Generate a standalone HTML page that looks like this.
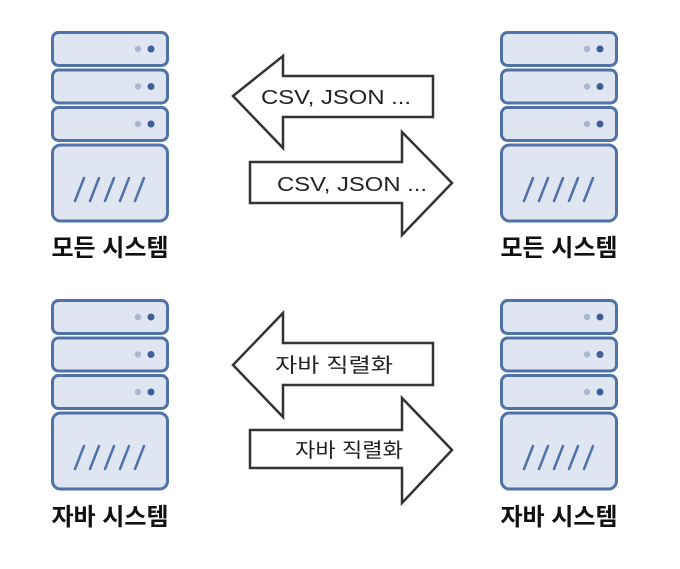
<!DOCTYPE html>
<html><head><meta charset="utf-8"><style>
body{margin:0;background:#fff;width:680px;height:564px;overflow:hidden}
</style></head><body>
<svg width="680" height="564" viewBox="0 0 680 564" xmlns="http://www.w3.org/2000/svg">
<defs>
<g id="srv">
<rect x="1.5" y="1.5" width="115" height="33" rx="6" fill="#dfe5f1" stroke="#4f73a8" stroke-width="3"/>
<rect x="1.5" y="39" width="115" height="33" rx="6" fill="#dfe5f1" stroke="#4f73a8" stroke-width="3"/>
<rect x="1.5" y="76.5" width="115" height="33" rx="6" fill="#dfe5f1" stroke="#4f73a8" stroke-width="3"/>
<rect x="1.5" y="114" width="115" height="76" rx="8" fill="#dfe5f1" stroke="#4f73a8" stroke-width="3"/>
<circle cx="87" cy="18" r="3.2" fill="#a9b7d0"/><circle cx="100" cy="18" r="3.5" fill="#3e609a"/>
<circle cx="87" cy="55.5" r="3.2" fill="#a9b7d0"/><circle cx="100" cy="55.5" r="3.5" fill="#3e609a"/>
<circle cx="87" cy="93" r="3.2" fill="#a9b7d0"/><circle cx="100" cy="93" r="3.5" fill="#3e609a"/>
<g stroke="#4f73a8" stroke-width="2.5" stroke-linecap="round">
<line x1="24" y1="170" x2="33" y2="147"/><line x1="39" y1="170" x2="48" y2="147"/><line x1="54" y1="170" x2="63" y2="147"/><line x1="69" y1="170" x2="78" y2="147"/><line x1="84" y1="170" x2="93" y2="147"/>
</g>
</g>
</defs>
<use href="#srv" x="51" y="31"/>
<use href="#srv" x="500" y="31"/>
<use href="#srv" x="51" y="299"/>
<use href="#srv" x="500" y="299"/>
<g font-family="'Liberation Sans','Noto Sans CJK KR',sans-serif" font-weight="bold" font-size="24" fill="#111" text-anchor="middle">
<text x="110" y="256">모든 시스템</text>
<text x="559" y="256">모든 시스템</text>
<text x="110" y="525">자바 시스템</text>
<text x="559" y="525">자바 시스템</text>
</g>
<g fill="#fff" stroke="#333" stroke-width="2.5" stroke-linejoin="miter">
<polygon points="233,96 283,56 283,76 433,76 433,117 283,117 283,148"/>
<polygon points="452,183 402,132 402,162 250,162 250,203 402,203 402,235"/>
<polygon points="233,365 283,313 283,343 433,343 433,385 283,385 283,417"/>
<polygon points="452,450 402,398 402,430 250,430 250,468 402,468 402,503"/>
</g>
<g font-family="'Liberation Sans','Noto Sans CJK KR',sans-serif" font-size="20" fill="#222">
<text x="261" y="104" textLength="150" lengthAdjust="spacingAndGlyphs">CSV, JSON ...</text>
<text x="277" y="191" textLength="150" lengthAdjust="spacingAndGlyphs">CSV, JSON ...</text>
<text x="275" y="372" textLength="118" lengthAdjust="spacingAndGlyphs">자바  직렬화</text>
<text x="295" y="457" textLength="108" lengthAdjust="spacingAndGlyphs">자바 직렬화</text>
</g>
</svg>
</body></html>
